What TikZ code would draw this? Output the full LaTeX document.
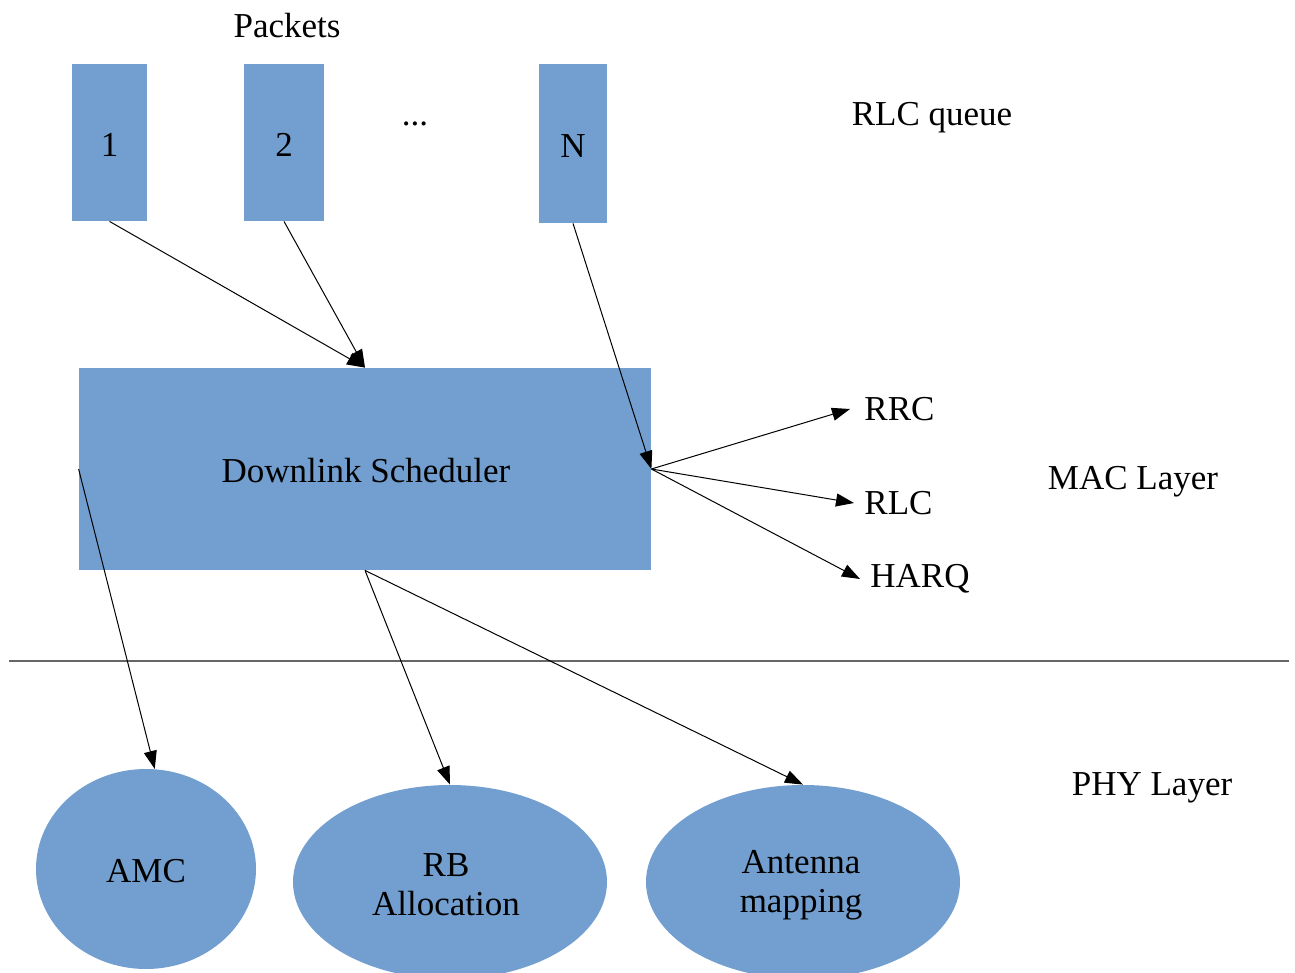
\documentclass[tikz,border=0pt]{standalone}
\usepackage{fontspec}
\setmainfont{Liberation Serif}
\usetikzlibrary{arrows.meta,shapes.geometric}
\definecolor{boxblue}{HTML}{729FCF}
\begin{document}
\begin{tikzpicture}[x=0.5pt,y=-0.5pt,
  every node/.style={font=\fontsize{17.5}{20}\selectfont},
  pkt/.style={fill=boxblue,draw=none,minimum width=38pt,minimum height=78.5pt,inner sep=0pt},
  oval/.style={ellipse,fill=boxblue,draw=none,inner sep=0pt},
  arr/.style={-{Triangle[length=9pt,width=6.5pt]},line width=0.5pt,black},
  lbl/.style={inner sep=0pt,anchor=west}]
\useasboundingbox (0,0) rectangle (1295,973);
% packets
\node[pkt,minimum width=37.5pt] (p1) at (109.5,142.5) {};
\node[pkt,minimum width=40pt] (p2) at (284,142.5) {};
\node[pkt,minimum width=34pt,minimum height=79.5pt] (pn) at (573,143.5) {};
\node (p1t) at (109.5,145) {1};
\node (p2t) at (284,145) {2};
\node (pnt) at (573,146) {N};
\node (dots) at (415,124) {...};
\node (packets) at (287,26) {Packets};
\node (rlcq) at (932,118) {RLC queue};
% scheduler
\node[fill=boxblue,minimum width=286pt,minimum height=101pt,inner sep=0pt] (sched) at (365,469) {};
\node (schedt) at (366,471) {Downlink Scheduler};
% right labels
\node[lbl] (rrc) at (864,409) {RRC};
\node[lbl] (rlc) at (864,503) {RLC};
\node[lbl] (harq) at (870,579) {HARQ};
\node (mac) at (1133,482) {MAC Layer};
\node (phy) at (1152,788) {PHY Layer};
% separator
\coordinate (sepL) at (9,661);
\coordinate (sepR) at (1289,661);
\draw[line width=0.6pt,black!60] (sepL) -- (sepR);
% ellipses
\node[oval,minimum width=110pt,minimum height=100pt] (amc) at (146,869) {};
\node[oval,minimum width=157pt,minimum height=97pt] (rb) at (450,882) {};
\node[oval,minimum width=157pt,minimum height=97pt] (ant) at (803,882) {};
\node (amct) at (146,871) {AMC};
\node[align=center] (rbt) at (446,885) {RB\\[-0.5pt]Allocation};
\node[align=center] (antt) at (801,885) {Antenna\\[-0.5pt]mapping};
% arrows
\draw[arr] (p1.south) -- (sched.north);
\draw[arr] (p2.south) -- (sched.north);
\draw[arr] (pn.south) -- (sched.east);
\draw[arr] (sched.east) -- ([xshift=-7pt]rrc.west);
\draw[arr] (sched.east) -- ([xshift=-5pt]rlc.west);
\draw[arr] (sched.east) -- ([xshift=-5pt]harq.west);
\draw[arr] (sched.west) -- (amc.85);
\draw[arr] (sched.south) -- (rb.north);
\draw[arr] (sched.south) -- (ant.north);
\end{tikzpicture}
\end{document}
